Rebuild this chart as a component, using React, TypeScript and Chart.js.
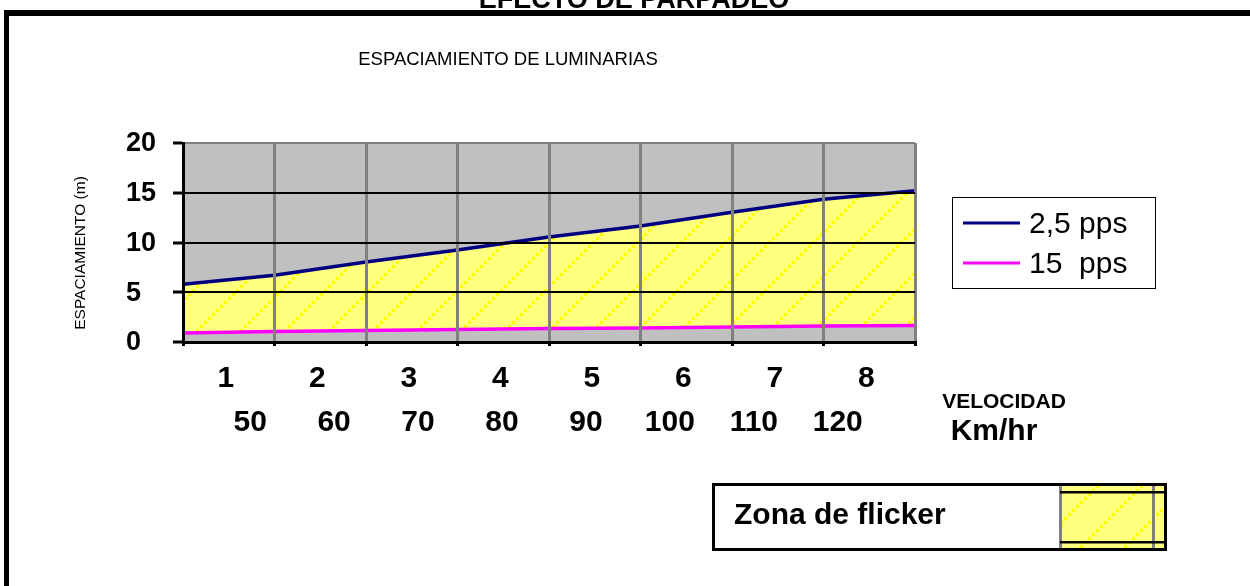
import React, { useEffect, useRef } from 'react';
import { Chart, registerables } from 'chart.js';

Chart.register(...registerables);

// ---- data ----
const edgePositions = [0, 1, 2, 3, 4, 5, 6, 7, 8];
const ordinalLabels = ['1', '2', '3', '4', '5', '6', '7', '8'];
const speedLabels = [50, 60, 70, 80, 90, 100, 110, 120];
const spacing25pps = [5.8, 6.7, 8.05, 9.25, 10.55, 11.65, 13.05, 14.35, 15.2];
const spacing15pps = [0.9, 1.05, 1.15, 1.25, 1.35, 1.4, 1.5, 1.6, 1.65];
const seriesLabels = ['2,5 pps', '15  pps'];
const seriesColors = ['#000080', '#FF00FF'];

const TITLE = 'EFECTO DE PARPADEO';
const SUBTITLE = 'ESPACIAMIENTO DE LUMINARIAS';
const Y_TITLE = 'ESPACIAMIENTO (m)';
const X_TITLE_1 = 'VELOCIDAD';
const X_TITLE_2 = 'Km/hr';
const ZONE_LABEL = 'Zona de flicker';

const FONT = '"Liberation Sans", Arial, Helvetica, sans-serif';

function makeHatch(): CanvasPattern | string {
  const P = 44;
  const c = document.createElement('canvas');
  c.width = P;
  c.height = P;
  const g = c.getContext('2d');
  if (!g) return '#FFFF80';
  g.fillStyle = '#FFFF80';
  g.fillRect(0, 0, P, P);
  g.fillStyle = '#FFFF00';
  for (let t = 0; t < P; t += 4) g.fillRect(t, P - t - 3, 3, 3);
  const p = g.createPattern(c, 'repeat');
  return p || '#FFFF80';
}

export default function App() {
  const ref = useRef<HTMLCanvasElement | null>(null);

  useEffect(() => {
    document.body.style.margin = '0';
    const canvas = ref.current;
    if (!canvas) return;
    const hatch = makeHatch();

    const decor = {
      id: 'decor',
      beforeDraw(chart: any) {
        const { ctx, chartArea } = chart;
        ctx.save();
        ctx.fillStyle = '#FFFFFF';
        ctx.fillRect(0, 0, chart.width, chart.height);
        ctx.fillStyle = '#C0C0C0';
        ctx.fillRect(chartArea.left, chartArea.top, chartArea.right - chartArea.left, chartArea.bottom - chartArea.top);
        ctx.restore();
      },
      afterDraw(chart: any) {
        const ctx = chart.ctx as CanvasRenderingContext2D;
        const xs = chart.scales.x;
        const xsp = chart.scales.xSpeed;
        const ys = chart.scales.y;
        ctx.save();
        ctx.fillStyle = '#000';

        // outer frame (top and left)
        ctx.fillRect(4, 10, 1246, 6);
        ctx.fillRect(4, 10, 5, 576);

        // titles
        ctx.textAlign = 'center';
        ctx.textBaseline = 'alphabetic';
        ctx.font = `bold 27px ${FONT}`;
        ctx.fillText(TITLE, 634, 8);
        ctx.font = `18.5px ${FONT}`;
        ctx.fillText(SUBTITLE, 508, 65);

        // y tick labels
        ctx.font = `bold 27px ${FONT}`;
        ctx.textAlign = 'left';
        ctx.textBaseline = 'middle';
        ys.ticks.forEach((t: any) => {
          ctx.fillText(String(t.value), 126, ys.getPixelForValue(t.value) + 1);
        });

        // y axis title
        ctx.save();
        ctx.translate(81, 253);
        ctx.rotate(-Math.PI / 2);
        ctx.font = `15.5px ${FONT}`;
        ctx.textAlign = 'center';
        ctx.textBaseline = 'middle';
        ctx.fillText(Y_TITLE, 0, 0);
        ctx.restore();

        // category labels
        ctx.textAlign = 'center';
        ctx.textBaseline = 'alphabetic';
        ctx.font = `bold 30px ${FONT}`;
        ordinalLabels.forEach((lab, i) => {
          ctx.fillText(lab, xs.getPixelForValue(i + 0.5) - 3, 387);
        });
        speedLabels.forEach((v) => {
          ctx.fillText(String(v), xsp.getPixelForValue(v), 431);
        });

        // x axis title
        ctx.font = `bold 21px ${FONT}`;
        ctx.fillText(X_TITLE_1, 1004, 408);
        ctx.font = `bold 30px ${FONT}`;
        ctx.fillText(X_TITLE_2, 994, 440);

        // legend
        ctx.strokeStyle = '#000';
        ctx.lineWidth = 1;
        ctx.strokeRect(952.5, 197.5, 203, 91);
        ctx.font = `30px ${FONT}`;
        ctx.textAlign = 'left';
        ctx.textBaseline = 'middle';
        chart.data.datasets.forEach((ds: any, i: number) => {
          const y = 223 + i * 40;
          ctx.strokeStyle = ds.borderColor;
          ctx.lineWidth = 3;
          ctx.beginPath();
          ctx.moveTo(963, y);
          ctx.lineTo(1020, y);
          ctx.stroke();
          ctx.fillStyle = '#000';
          ctx.fillText(ds.label, 1029, y + 2);
        });

        // flicker zone key
        ctx.fillStyle = hatch as any;
        ctx.fillRect(1060, 485, 107, 64);
        ctx.fillStyle = '#808080';
        ctx.fillRect(1059, 485, 3, 64);
        ctx.fillRect(1152, 485, 3, 64);
        ctx.fillStyle = '#000';
        ctx.fillRect(1060, 491, 107, 2.5);
        ctx.fillRect(1060, 541, 107, 2.5);
        ctx.strokeStyle = '#000';
        ctx.lineWidth = 3;
        ctx.strokeRect(713.5, 484.5, 452, 65);
        ctx.font = `bold 30px ${FONT}`;
        ctx.textAlign = 'left';
        ctx.textBaseline = 'alphabetic';
        ctx.fillText(ZONE_LABEL, 734, 524);

        ctx.restore();
      },
    };

    const chart = new Chart(canvas, {
      type: 'line',
      data: {
        datasets: [
          {
            label: seriesLabels[0],
            data: edgePositions.map((x, i) => ({ x, y: spacing25pps[i] })),
            borderColor: seriesColors[0],
            borderWidth: 3.5,
            pointRadius: 0,
            tension: 0,
            fill: '+1',
            backgroundColor: hatch as any,
          },
          {
            label: seriesLabels[1],
            data: edgePositions.map((x, i) => ({ x, y: spacing15pps[i] })),
            borderColor: seriesColors[1],
            borderWidth: 3.5,
            pointRadius: 0,
            tension: 0,
            fill: false,
          },
        ],
      },
      options: {
        responsive: false,
        animation: false,
        events: [],
        layout: { padding: { left: 173, right: 335, top: 143, bottom: 240 } },
        plugins: {
          legend: { display: false },
          tooltip: { enabled: false },
          title: { display: false },
          filler: { drawTime: 'beforeDatasetsDraw' },
        },
        scales: {
          x: {
            type: 'linear',
            min: 0,
            max: 8,
            ticks: { display: false, stepSize: 1 },
            grid: {
              color: '#808080',
              lineWidth: 3,
              z: 1,
              drawTicks: true,
              tickLength: 4,
              tickColor: '#000',
              tickWidth: 3,
            },
            border: { color: '#000', width: 3, z: 1 },
          },
          xSpeed: {
            type: 'linear',
            axis: 'x',
            position: 'bottom',
            display: false,
            min: 42,
            max: 129.2,
          },
          y: {
            type: 'linear',
            min: 0,
            max: 20,
            ticks: { display: false, stepSize: 5 },
            grid: {
              color: (c: any) => (c.tick && c.tick.value === 20 ? '#808080' : '#000'),
              lineWidth: 2,
              z: 1,
              drawTicks: true,
              tickLength: 10,
              tickColor: '#000',
              tickWidth: 3,
            },
            border: { color: '#000', width: 3, z: 1 },
          },
        },
      } as any,
      plugins: [decor],
    });

    return () => chart.destroy();
  }, []);

  return (
    <div style={{ width: 1250, height: 586 }}>
      <canvas ref={ref} width={1250} height={586} style={{ display: 'block' }} />
    </div>
  );
}
